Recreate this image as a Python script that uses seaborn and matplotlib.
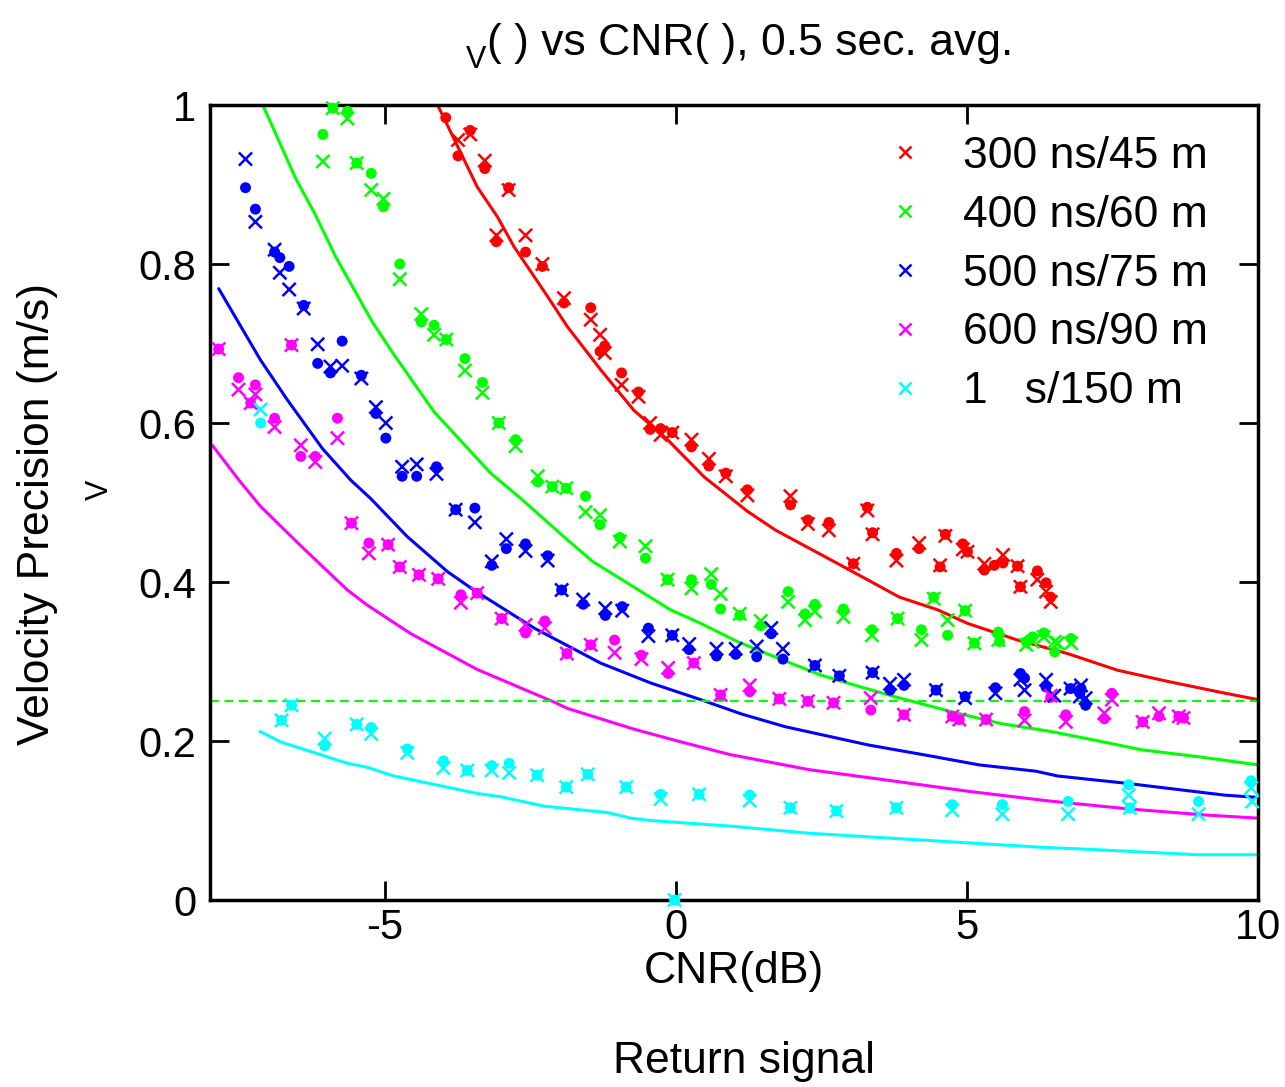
import numpy as np
import pandas as pd
import seaborn as sns
import matplotlib.pyplot as plt

# pulse length / range gate of each series
pulses = ['300 ns/45 m', '400 ns/60 m', '500 ns/75 m', '600 ns/90 m', '1   s/150 m']
colors = ['#ff0000', '#00ff00', '#0000ff', '#ff00ff', '#00ffff']
target_sigma = 0.25

# measured points: CNR (dB), dot estimate, cross estimate (nan = not present)
r300_cnr = [-3.95, -3.74, -3.53, -3.28, -3.08, -2.87, -2.58, -2.29, -1.92, -1.46, -1.30, -1.22, -0.93, -0.64,
            -0.44, -0.26, -0.06, 0.27, 0.57, 0.86, 1.23, 1.97, 2.27, 2.63, 3.05, 3.29, 3.38, 3.79, 4.18, 4.54,
            4.63, 4.93, 5.01, 5.30, 5.47, 5.62, 5.87, 5.92, 6.21, 6.36, 6.44]
r300_dot = [0.984, 0.936, 0.968, 0.920, 0.828, 0.896, 0.815, 0.797, 0.751, 0.745, 0.690, 0.697, 0.663, 0.639,
            0.592, 0.593, 0.588, 0.570, 0.546, 0.537, 0.516, 0.497, 0.478, 0.475, 0.423, 0.494, 0.462, 0.436,
            0.442, 0.419, 0.460, 0.448, 0.438, 0.415, 0.421, 0.424, 0.420, 0.394, 0.414, 0.399, 0.381]
r300_cross = [np.nan, 0.956, 0.963, 0.930, 0.836, 0.893, 0.836, 0.800, 0.757, 0.730, 0.711, 0.688, 0.648, 0.633,
              0.600, 0.585, 0.588, 0.579, 0.555, 0.533, 0.509, 0.508, 0.473, 0.465, 0.423, 0.490, 0.460, 0.427,
              0.449, 0.421, 0.458, 0.441, 0.438, 0.423, np.nan, 0.434, 0.420, 0.394, 0.403, 0.388, 0.375]

r400_cnr = [-6.06, -5.89, -5.64, -5.48, -5.23, -5.02, -4.74, -4.37, -4.15, -3.94, -3.62, -3.32, -3.04, -2.75,
            -2.37, -2.12, -1.88, -1.55, -1.30, -0.96, -0.52, -0.14, 0.27, 0.61, 0.77, 1.10, 1.46, 1.93, 2.22,
            2.39, 2.88, 3.37, 3.81, 4.22, 4.43, 4.67, 4.97, 5.13, 5.54, 5.56, 6.02, 6.13, 6.32, 6.51, 6.56, 6.79]
r400_dot = [0.963, 0.996, 0.992, 0.927, 0.914, 0.872, 0.800, 0.727, 0.723, 0.705, 0.681, 0.651, 0.600, 0.579,
            0.526, 0.520, 0.518, 0.508, 0.472, 0.456, 0.430, 0.403, 0.403, 0.397, 0.366, 0.358, 0.345, 0.388,
            0.360, 0.372, 0.366, 0.340, 0.354, 0.340, 0.381, 0.333, 0.364, 0.323, 0.337, 0.325, 0.325, 0.331,
            0.336, 0.312, np.nan, 0.329]
r400_cross = [0.929, 0.996, 0.983, 0.927, 0.893, 0.882, 0.781, 0.737, 0.711, 0.705, 0.666, 0.638, 0.600, 0.571,
              0.533, 0.520, 0.518, 0.488, 0.484, 0.451, 0.445, 0.403, 0.392, 0.410, 0.385, 0.360, 0.351, 0.375,
              0.352, 0.363, 0.356, 0.333, 0.354, 0.327, 0.379, 0.352, 0.364, 0.323, 0.327, np.nan, 0.321, 0.325,
              0.331, 0.325, 0.323, 0.323]

r500_cnr = [-7.39, -7.22, -6.89, -6.80, -6.64, -6.39, -6.15, -5.93, -5.73, -5.40, -5.15, -4.98, -4.70, -4.45,
            -4.11, -3.78, -3.45, -3.16, -2.91, -2.58, -2.20, -1.96, -1.59, -1.21, -0.92, -0.47, -0.06, 0.23, 0.70,
            1.03, 1.39, 1.64, 1.84, 2.39, 2.81, 3.38, 3.68, 3.92, 4.47, 4.97, 5.49, 5.92, 5.99, 6.36, 6.50, 6.78,
            6.94, 6.96, 7.04]
r500_dot = [0.896, 0.869, 0.815, 0.808, 0.797, 0.748, 0.675, 0.663, 0.703, 0.660, 0.612, 0.581, 0.533, 0.533,
            0.545, 0.491, 0.493, 0.421, 0.442, 0.448, 0.433, 0.390, 0.372, 0.358, 0.369, 0.342, 0.333, 0.315,
            0.307, 0.309, 0.306, 0.335, 0.303, 0.295, 0.282, 0.286, 0.264, 0.270, 0.264, 0.256, 0.267, 0.285,
            0.279, 0.268, np.nan, 0.266, 0.260, 0.266, 0.245]
r500_cross = [0.932, 0.853, 0.818, 0.789, 0.768, 0.744, 0.699, 0.671, 0.672, 0.656, 0.620, 0.600, 0.545, 0.548,
              0.536, 0.491, 0.475, 0.426, 0.454, 0.439, 0.427, 0.390, 0.378, 0.367, 0.364, 0.332, 0.333, 0.322,
              0.316, 0.316, 0.319, 0.342, 0.316, 0.295, 0.282, 0.286, 0.272, 0.277, 0.264, 0.254, 0.260, 0.277,
              0.264, 0.277, 0.257, 0.266, 0.256, 0.270, 0.254]

r600_cnr = [-7.85, -7.51, -7.30, -7.22, -6.89, -6.60, -6.44, -6.19, -5.81, -5.57, -5.27, -4.94, -4.74, -4.41,
            -4.08, -3.69, -3.41, -2.99, -2.58, -2.25, -1.87, -1.46, -1.05, -0.59, -0.13, 0.31, 0.77, 1.27, 1.78,
            2.27, 2.71, 3.35, 3.92, 4.75, 4.87, 5.33, 5.99, 6.44, 6.70, 7.36, 7.49, 8.02, 8.30, 8.64, 8.72]
r600_dot = [0.693, 0.657, 0.625, 0.648, 0.606, 0.698, 0.558, 0.558, 0.606, 0.474, 0.449, 0.447, 0.419, 0.409,
            0.404, 0.384, 0.386, 0.354, 0.336, 0.351, 0.310, 0.321, 0.327, 0.308, 0.285, 0.298, 0.258, 0.262,
            0.253, 0.250, 0.248, 0.239, 0.233, 0.231, 0.227, 0.227, 0.237, 0.255, 0.233, 0.228, 0.260, 0.224,
            0.231, 0.231, 0.229]
r600_cross = [0.693, 0.642, 0.625, 0.636, 0.595, 0.698, 0.572, 0.551, 0.581, 0.474, 0.436, 0.447, 0.419, 0.409,
              0.404, 0.374, 0.386, 0.354, 0.346, 0.342, 0.310, 0.321, 0.311, 0.303, 0.292, 0.298, 0.258, 0.270,
              0.253, 0.250, 0.248, 0.254, 0.233, 0.231, 0.227, 0.227, 0.226, 0.257, 0.224, 0.235, 0.252, 0.224,
              0.235, 0.231, 0.229]

r1000_cnr = [-7.13, -6.77, -6.60, -6.03, -5.48, -5.23, -4.61, -3.99, -3.58, -3.16, -2.86, -2.38, -1.88, -1.51,
             -0.85, -0.26, -0.02, 0.40, 1.27, 1.97, 2.76, 3.79, 4.75, 5.61, 6.74, 7.78, 7.80, 8.98, 9.88, 9.90]
r1000_dot = [0.600, 0.226, 0.245, 0.194, 0.221, 0.217, 0.190, 0.175, 0.163, 0.169, 0.172, 0.157, 0.142, 0.158,
             0.142, 0.133, 0.0, 0.133, 0.132, 0.116, 0.112, 0.116, 0.120, 0.120, 0.124, 0.145, 0.116, 0.124,
             0.150, np.nan]
r1000_cross = [0.617, 0.226, 0.245, 0.203, 0.221, 0.209, 0.185, 0.166, 0.163, 0.163, 0.160, 0.157, 0.142, 0.158,
               0.142, 0.127, 0.0, 0.133, 0.125, 0.116, 0.112, 0.116, 0.113, 0.108, 0.108, 0.132, 0.116, 0.108,
               0.141, 0.124]

# theoretical curves
r300_fit_cnr = [-4.09, -3.41, -3.06, -2.78, -2.20, -1.86, -1.29, -0.72, -0.14, 0.49, 1.23, 1.72, 2.66, 3.29,
                3.84, 4.50, 5.01, 5.87, 6.73, 7.59, 8.45, 9.31, 10.0]
r300_fit_sig = [1.0, 0.897, 0.859, 0.822, 0.759, 0.721, 0.667, 0.616, 0.579, 0.532, 0.489, 0.465, 0.428, 0.403,
                0.381, 0.365, 0.348, 0.327, 0.310, 0.289, 0.275, 0.262, 0.252]
r400_fit_cnr = [-7.08, -6.53, -6.19, -5.84, -5.21, -4.84, -4.15, -3.18, -2.66, -1.86, -1.43, -0.09, 0.43, 1.06,
                1.63, 2.49, 3.18, 3.75, 4.73, 5.58, 6.44, 7.13, 8.0, 9.0, 10.0]
r400_fit_sig = [0.998, 0.908, 0.862, 0.809, 0.727, 0.686, 0.614, 0.537, 0.505, 0.453, 0.426, 0.365, 0.348, 0.325,
                0.308, 0.283, 0.268, 0.256, 0.237, 0.222, 0.212, 0.202, 0.189, 0.180, 0.170]
r500_fit_cnr = [-7.85, -7.13, -6.67, -6.07, -5.58, -5.24, -4.61, -3.92, -3.47, -2.43, -1.29, -0.43, 0.43, 1.13,
                1.88, 3.31, 4.39, 5.21, 6.19, 6.56, 7.72, 8.74, 9.42, 10.0]
r500_fit_sig = [0.769, 0.679, 0.629, 0.568, 0.528, 0.505, 0.457, 0.413, 0.390, 0.342, 0.298, 0.273, 0.252, 0.234,
                0.218, 0.195, 0.181, 0.170, 0.162, 0.156, 0.147, 0.138, 0.132, 0.129]
r600_fit_cnr = [-7.96, -7.5, -7.13, -6.39, -5.64, -5.30, -4.55, -3.41, -2.09, -1.86, -0.72, -0.02, 0.93, 2.29,
                3.71, 5.0, 6.36, 7.72, 9.08, 10.0]
r600_fit_sig = [0.572, 0.528, 0.495, 0.442, 0.390, 0.371, 0.335, 0.290, 0.249, 0.241, 0.215, 0.201, 0.183, 0.164,
                0.150, 0.137, 0.125, 0.115, 0.107, 0.103]
r1000_fit_cnr = [-7.14, -6.79, -5.64, -5.30, -4.84, -3.41, -3.01, -2.26, -1.17, -0.77, -0.43, 0.93, 2.29, 3.65,
                 5.0, 6.36, 7.04, 8.94, 10.0]
r1000_fit_sig = [0.212, 0.199, 0.172, 0.167, 0.156, 0.134, 0.130, 0.118, 0.110, 0.103, 0.100, 0.093, 0.084, 0.078,
                 0.072, 0.066, 0.064, 0.057, 0.057]

meas = [(r300_cnr, r300_dot, r300_cross), (r400_cnr, r400_dot, r400_cross), (r500_cnr, r500_dot, r500_cross),
        (r600_cnr, r600_dot, r600_cross), (r1000_cnr, r1000_dot, r1000_cross)]
fits = [(r300_fit_cnr, r300_fit_sig), (r400_fit_cnr, r400_fit_sig), (r500_fit_cnr, r500_fit_sig),
        (r600_fit_cnr, r600_fit_sig), (r1000_fit_cnr, r1000_fit_sig)]

points = pd.concat([pd.DataFrame({'cnr': c, 'dot': d, 'cross': x, 'pulse': p})
                    for (c, d, x), p in zip(meas, pulses)], ignore_index=True)
curves = pd.concat([pd.DataFrame({'cnr': c, 'sigma': s, 'pulse': p})
                    for (c, s), p in zip(fits, pulses)], ignore_index=True)
palette = dict(zip(pulses, colors))

sns.set_style('ticks')
plt.rcParams['font.family'] = ['Liberation Sans', 'DejaVu Sans']
plt.rcParams['axes.unicode_minus'] = False
for key in ['text.color', 'axes.labelcolor', 'xtick.color', 'ytick.color']:
    plt.rcParams[key] = 'black'

fig = plt.figure(figsize=(12.85, 10.87), dpi=100)
ax = fig.add_axes([0.1634, 0.172, 0.8156, 0.7314])

sns.lineplot(data=curves, x='cnr', y='sigma', hue='pulse', hue_order=pulses, palette=palette,
             estimator=None, sort=False, lw=2.2, legend=False, ax=ax)
ax.axhline(target_sigma, color='#00ff00', ls='--', lw=1.6, dashes=(4, 2.5))

sns.scatterplot(data=points, x='cnr', y='dot', hue='pulse', hue_order=pulses, palette=palette,
                marker='o', s=62, linewidth=0, legend=False, clip_on=False, zorder=3, ax=ax)
sns.scatterplot(data=points, x='cnr', y='cross', hue='pulse', hue_order=pulses, palette=palette,
                marker='x', s=90, linewidth=1.8, clip_on=False, zorder=4, ax=ax)

ax.set_xlim(-8, 10)
ax.set_ylim(0, 1)
ax.set_xticks([-5, 0, 5, 10])
ax.set_xticklabels(['-5', '0', '5', '10'])
ax.set_yticks([0, 0.2, 0.4, 0.6, 0.8, 1])
ax.set_yticklabels(['0', '0.2', '0.4', '0.6', '0.8', '1'])
ax.tick_params(direction='in', top=True, right=True, length=14, width=2, labelsize=30, pad=10)
ax.tick_params(axis='x', pad=6)
for sp in ax.spines.values():
    sp.set_linewidth(2.5)
    sp.set_color('black')

ax.set_xlabel('CNR(dB)', fontsize=32, labelpad=2)
ax.set_ylabel('Velocity Precision (m/s)', fontsize=32)
ax.yaxis.set_label_coords(-0.145, 0.486)

fig.text(100 / 1285, 1 - 490 / 1087, 'V', rotation=90, fontsize=22, ha='center', va='center')
fig.text(487 / 1285, 1 - 55 / 1087, '( ) vs CNR( ), 0.5 sec. avg.', fontsize=32, ha='left', va='baseline')
fig.text(476 / 1285, 1 - 60 / 1087, 'V', fontsize=22, ha='center', va='center')
fig.text(744 / 1285, 1 - 1062 / 1087, 'Return signal', fontsize=32, ha='center', va='center')

sns.move_legend(ax, 'upper left', bbox_to_anchor=(0.642, 0.961), frameon=False, title=None,
                fontsize=32, handlelength=1.0, handletextpad=0.8, labelspacing=0.4,
                borderpad=0, borderaxespad=0)
for h in ax.get_legend().legend_handles:
    if hasattr(h, 'set_markersize'):
        h.set_markersize(8)
    else:
        h.set_sizes([60])

fig.savefig('out.png', dpi=100)
